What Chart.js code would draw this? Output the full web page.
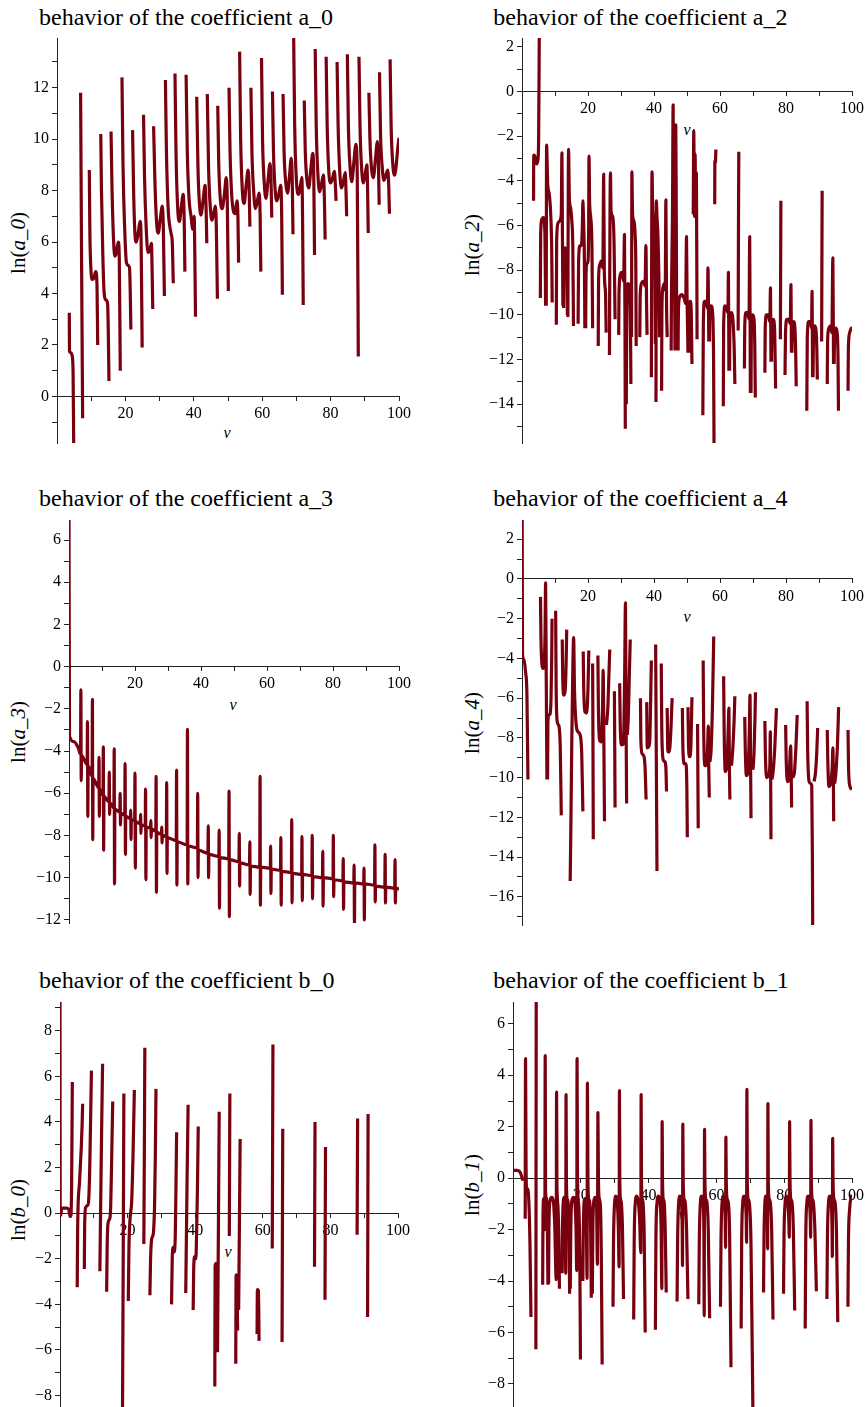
<!DOCTYPE html>
<html>
<head>
<meta charset="utf-8">
<script src="https://cdn.jsdelivr.net/npm/chart.js@4.4.1/dist/chart.umd.min.js"></script>
<style>
  body { margin: 0; background: #fff; }
  #page { position: relative; width: 868px; height: 1407px; overflow: hidden;
          font-family: 'Liberation Serif', 'Times New Roman', serif; color: #000; }
  .title { position: absolute; font-size: 24px; line-height: 28px; white-space: nowrap; }
  .ylab { position: absolute; font-size: 21px; white-space: nowrap;
          transform: translate(-50%, -50%) rotate(-90deg); }
  .vlab { position: absolute; font-size: 16px; font-style: italic; transform: translate(-50%, -50%); }
  canvas { position: absolute; }
</style>
</head>
<body>
<div id="page"></div>
<script>
// curves: [v, ln(coef)], null = gap in the curve
const a0Curve = [
  [3.6,3.25],[3.65,1.75],[4.0,1.7],[4.4,1.6],[4.7,1.0],[4.9,-2.2], null,
  [6.9,11.8],[7.2,5.0],[7.5,-0.85], null,
  [9.45,8.8],[9.6,6.5],[9.9,5.0],[10.3,4.55],[10.8,4.6],[11.3,4.85],[11.7,4.3],[11.9,2.0], null,
  [12.8,10.2],[13.0,8.0],[13.4,5.5],[13.8,4.0],[14.3,3.75],[14.8,3.6],[15.0,2.5],[15.2,0.6], null,
  [15.8,10.3],[16.1,8.0],[16.5,6.2],[16.9,5.45],[17.4,5.6],[17.9,6.0],[18.2,5.5],[18.5,1.0], null,
  [19.0,12.4],[19.3,9.0],[19.8,6.5],[20.3,5.2],[20.8,5.1],[21.2,5.0],[21.4,4.2],[21.6,2.6], null,
  [22.1,10.35],[22.4,8.0],[22.8,6.3],[23.2,6.0],[23.8,6.4],[24.3,6.8],[24.6,6.0],[24.9,1.9], null,
  [25.3,10.95],[25.6,8.5],[26.1,6.5],[26.6,5.6],[27.2,5.7],[27.6,5.95],[27.8,5.0],[28.0,3.4], null,
  [28.25,10.5],[28.6,8.5],[29.1,6.8],[29.6,6.35],[30.2,6.9],[30.8,7.4],[31.1,6.5],[31.4,3.9], null,
  [31.7,12.3],[32.0,9.5],[32.5,7.3],[33.0,6.6],[33.4,6.3],[33.7,6.0],[34.0,4.4], null,
  [34.5,12.55],[34.8,9.5],[35.3,7.3],[35.8,6.8],[36.3,7.3],[36.9,7.85],[37.2,6.8],[37.4,4.85], null,
  [37.75,12.5],[38.1,9.5],[38.6,7.7],[39.2,7.0],[39.7,6.5],[40.1,7.0],[40.3,5.5],[40.5,3.1], null,
  [40.85,11.65],[41.2,9.0],[41.6,7.6],[42.1,7.05],[42.7,7.6],[43.3,8.2],[43.6,7.3],[43.8,5.95], null,
  [43.95,11.75],[44.3,9.0],[44.8,7.4],[45.3,6.85],[45.8,7.1],[46.3,7.4],[46.6,6.5],[46.9,3.8], null,
  [47.0,11.3],[47.3,9.0],[47.8,7.6],[48.3,7.3],[48.9,7.8],[49.5,8.5],[49.8,7.5],[50.1,4.1], null,
  [50.3,12.0],[50.6,9.5],[51.1,7.8],[51.6,7.2],[52.1,7.1],[52.6,7.6],[52.9,7.0],[53.1,5.2], null,
  [53.4,13.4],[53.7,10.0],[54.2,8.0],[54.7,7.5],[55.3,8.2],[55.9,8.8],[56.2,8.0],[56.4,6.6], null,
  [56.7,12.0],[57.0,9.5],[57.5,8.0],[58.0,7.3],[58.6,7.6],[59.1,7.9],[59.4,7.0],[59.6,4.85], null,
  [59.8,13.15],[60.1,10.0],[60.6,8.3],[61.1,7.7],[61.7,8.4],[62.3,9.05],[62.6,8.3],[62.8,6.95], null,
  [63.0,11.85],[63.3,9.5],[63.8,8.0],[64.3,7.6],[64.9,7.9],[65.4,8.2],[65.7,7.0],[65.9,3.95], null,
  [66.1,11.75],[66.4,9.5],[66.9,8.3],[67.4,7.9],[68.0,8.6],[68.5,9.25],[68.8,8.3],[69.0,6.3], null,
  [69.2,14.0],[69.5,10.5],[70.0,8.4],[70.6,7.85],[71.2,8.2],[71.6,8.5],[71.8,7.0],[72.0,3.55], null,
  [72.3,11.5],[72.6,9.5],[73.1,8.4],[73.6,8.1],[74.2,8.8],[74.8,9.45],[75.1,8.3],[75.3,5.5], null,
  [75.5,13.5],[75.8,10.5],[76.3,8.6],[76.8,7.95],[77.4,8.3],[77.9,8.6],[78.2,7.6],[78.4,6.1], null,
  [78.7,13.2],[79.0,10.5],[79.5,8.7],[80.0,8.3],[80.6,8.5],[81.1,8.75],[81.4,8.2],[81.6,7.6], null,
  [81.9,13.0],[82.2,10.5],[82.7,8.7],[83.2,8.1],[83.8,8.4],[84.3,8.7],[84.5,8.0],[84.7,7.0], null,
  [84.9,13.3],[85.2,10.5],[85.7,8.9],[86.2,8.35],[86.8,9.1],[87.4,9.8],[87.8,8.5],[88.1,1.55], null,
  [88.3,13.2],[88.6,10.5],[89.1,8.8],[89.6,8.3],[90.2,8.7],[90.6,9.0],[90.8,8.2],[91.0,6.35], null,
  [91.2,11.8],[91.5,10.0],[92.0,8.8],[92.5,8.5],[93.1,9.2],[93.7,9.9],[94.0,9.0],[94.2,7.45], null,
  [94.3,12.6],[94.6,10.2],[95.1,8.9],[95.6,8.4],[96.2,8.6],[96.7,8.8],[97.0,8.2],[97.2,7.1], null,
  [97.4,13.1],[97.7,10.5],[98.2,9.0],[98.7,8.6],[99.2,9.0],[99.6,9.6],[100,10.05]
];

const a2Curve = [
  [3.5,-4.9],[3.55,-2.85],[3.9,-2.9],[4.4,-3.25],[4.8,-3.1],[5.05,-2.0],[5.25,3.0], null,
  [5.56,-9.25],[5.66,-6.4],[5.97,-5.75],[6.5,-5.65],[6.95,-6.4],[7.15,-9.6], null,
  [7.35,-9.6],[7.45,-2.4],[7.8,-4.2],[8.2,-4.55],[8.7,-5.5],[9.0,-7.1],[9.15,-9.45], null,
  [10.4,-10.45],[10.5,-6.7],[10.9,-5.9],[11.4,-5.8],[11.9,-5.5],[12.1,-2.75],[12.25,-6.4],[12.4,-9.6], null,
  [12.6,-9.7],[12.7,-7.5],[13.0,-7.0],[13.4,-7.1],[13.6,-8.0],[13.75,-10.0], null,
  [13.9,-10.1],[14.1,-2.6],[14.35,-4.8],[14.7,-5.2],[15.1,-5.8],[15.4,-7.0],[15.6,-10.5], null,
  [17.0,-10.4],[17.15,-7.6],[17.6,-6.9],[18.0,-6.9],[18.3,-6.0],[18.45,-4.9],[18.6,-5.5],[18.9,-7.5],[19.05,-10.6], null,
  [19.3,-10.6],[19.4,-8.2],[19.7,-7.7],[20.0,-7.6],[20.2,-6.0],[20.3,-2.9],[20.5,-5.0],[20.8,-5.6],[21.2,-7.0],[21.4,-10.6], null,
  [23.1,-11.4],[23.2,-8.5],[23.5,-7.8],[24.0,-7.6],[24.5,-7.9],[24.75,-3.7],[24.95,-8.1],[25.3,-9.0],[25.5,-10.8], null,
  [26.5,-11.8],[26.65,-6.0],[26.8,-3.65],[27.0,-5.4],[27.5,-5.6],[27.9,-6.8],[28.2,-10.2], null,
  [29.3,-10.9],[29.4,-9.0],[29.8,-8.2],[30.3,-8.1],[30.8,-8.5],[31.05,-6.4],[31.2,-10.0],[31.3,-15.1], null,
  [31.6,-14.0],[31.8,-9.5],[32.1,-8.6],[32.5,-8.7],[32.85,-10.0],[33.0,-13.1], null,
  [33.2,-11.0],[33.3,-3.6],[33.5,-5.5],[33.9,-5.8],[34.3,-6.5],[34.5,-8.0],[34.6,-11.4], null,
  [35.7,-11.0],[35.8,-9.2],[36.2,-8.6],[36.8,-8.5],[37.3,-8.7],[37.55,-6.9],[37.75,-9.5],[37.9,-10.9], null,
  [39.2,-12.8],[39.4,-3.6],[39.6,-5.3],[39.9,-5.7],[40.2,-7.0],[40.4,-11.3], null,
  [40.6,-13.9],[40.7,-4.9],[40.9,-5.6],[41.2,-6.5],[41.5,-8.5],[41.7,-11.0], null,
  [42.3,-13.4],[42.4,-9.8],[42.7,-8.8],[43.1,-8.6],[43.4,-8.9],[43.6,-4.85],[43.8,-9.5],[44.0,-11.0], null,
  [45.2,-11.6],[45.3,-9.0],[45.6,-5.6],[45.8,-0.6],[45.95,-5.6],[46.2,-7.5],[46.35,-11.6], null,
  [46.5,-11.6],[46.6,-1.5],[46.75,-5.6],[46.9,-11.6], null,
  [47.3,-11.6],[47.4,-9.8],[47.8,-9.2],[48.5,-9.1],[49.2,-9.3],[49.6,-9.5],[49.85,-6.5],[50.0,-9.0],[50.3,-11.7], null,
  [50.5,-11.7],[50.6,-9.6],[51.0,-9.4],[51.3,-10.0],[51.5,-12.2], null,
  [51.9,-5.5],[52.05,-1.75],[52.25,-5.6],[52.45,-2.8],[52.65,-5.6],[52.85,-3.65],[53.05,-11.1], null,
  [54.8,-14.5],[54.95,-10.5],[55.3,-9.4],[55.8,-9.4],[56.2,-9.7],[56.35,-7.9],[56.5,-9.5],[56.6,-11.2], null,
  [56.8,-11.2],[56.9,-9.8],[57.3,-9.6],[57.8,-10.0],[58.05,-12.0],[58.2,-16.0], null,
  [58.4,-5.05],[58.45,-3.1],[58.6,-3.2],[58.75,-2.6], null,
  [61.0,-14.1],[61.1,-10.5],[61.5,-9.6],[62.0,-9.7],[62.4,-9.9],[62.55,-8.1],[62.7,-12.5], null,
  [62.9,-12.5],[63.0,-10.2],[63.5,-9.9],[63.9,-10.2],[64.3,-11.5],[64.5,-13.1], null,
  [65.5,-10.7],[65.6,-6.0],[65.7,-2.7], null,
  [67.4,-12.4],[67.5,-10.5],[67.9,-9.9],[68.4,-9.9],[68.8,-10.2],[69.0,-6.5],[69.2,-13.5], null,
  [69.4,-13.5],[69.5,-10.6],[69.9,-10.0],[70.3,-10.2],[70.55,-11.5],[70.7,-13.7], null,
  [73.6,-12.6],[73.7,-10.6],[74.1,-10.0],[74.6,-10.0],[75.1,-10.3],[75.3,-8.8],[75.45,-12.1], null,
  [75.6,-12.1],[75.7,-10.7],[76.1,-10.2],[76.5,-10.5],[76.7,-11.8],[76.85,-13.3], null,
  [78.3,-11.1],[78.45,-4.9], null,
  [79.7,-12.7],[79.85,-10.8],[80.3,-10.2],[80.8,-10.2],[81.3,-10.4],[81.5,-8.65],[81.65,-11.7], null,
  [81.8,-11.7],[81.9,-10.8],[82.3,-10.3],[82.7,-10.6],[82.95,-11.8],[83.1,-13.2], null,
  [86.3,-14.3],[86.45,-11.0],[86.9,-10.3],[87.4,-10.3],[87.75,-10.6],[87.9,-8.95],[88.05,-12.8], null,
  [88.2,-12.8],[88.3,-11.2],[88.7,-10.5],[89.1,-10.7],[89.35,-11.6],[89.5,-12.9], null,
  [90.8,-11.2],[90.95,-4.45], null,
  [92.5,-13.1],[92.6,-11.2],[93.0,-10.6],[93.5,-10.5],[93.9,-10.8],[94.2,-7.45],[94.4,-12.2], null,
  [94.6,-12.2],[94.7,-11.0],[95.1,-10.6],[95.5,-10.8],[95.75,-11.8],[95.9,-14.3], null,
  [98.8,-13.4],[98.9,-11.5],[99.3,-10.8],[99.8,-10.6],[100,-10.6]
];

const a3Curve = [
  [0.0,7.2],[0.15,-3.3],[1.5,-3.55],[2.8,-3.85],
  [3.5,-4.15],[3.6,-1.1],[3.7,-5.4],[3.8,-4.2],
  [5.5,-4.65],[5.6,-2.6],[5.7,-7.1],[5.8,-4.7],
  [7.0,-5.2],[7.1,-1.55],[7.2,-8.2],[7.3,-5.3],
  [9.0,-5.75],[9.1,-4.3],[9.2,-7.1],[9.3,-5.8],
  [10.3,-6.1],[10.4,-3.8],[10.5,-8.7],[10.6,-6.15],
  [12.1,-6.4],[12.2,-5.0],[12.3,-7.0],[12.4,-6.45],
  [13.6,-6.7],[13.7,-3.9],[13.8,-10.3],[13.9,-6.75],
  [15.4,-6.9],[15.5,-6.0],[15.6,-7.5],[15.7,-6.95],
  [16.9,-7.05],[17.0,-4.6],[17.1,-8.9],[17.2,-7.1],
  [18.6,-7.2],[18.7,-6.8],[18.8,-8.2],[18.9,-7.25],
  [19.9,-7.3],[20.0,-5.05],[20.1,-9.55],[20.2,-7.35],
  [21.6,-7.45],[21.7,-7.0],[21.8,-7.9],[21.9,-7.5],
  [23.1,-7.55],[23.2,-5.8],[23.3,-10.1],[23.4,-7.6],
  [24.7,-7.65],[24.8,-7.3],[24.9,-8.1],[25.0,-7.7],
  [26.3,-7.8],[26.4,-5.2],[26.5,-10.7],[26.6,-7.85],
  [28.0,-7.95],[28.1,-7.6],[28.2,-8.35],[28.3,-8.0],
  [29.5,-8.05],[29.6,-5.5],[29.7,-9.8],[29.8,-8.1],
  [32.5,-8.25],[32.6,-4.9],[32.7,-10.35],[32.8,-8.3],
  [35.8,-8.45],[35.9,-2.97],[36.0,-10.3],[36.1,-8.5],
  [38.9,-8.6],[39.0,-6.0],[39.1,-10.0],[39.2,-8.7],
  [42.1,-8.85],[42.2,-7.55],[42.3,-10.0],[42.4,-8.9],
  [45.4,-9.0],[45.5,-7.75],[45.6,-11.45],[45.7,-9.05],
  [48.4,-9.1],[48.5,-5.9],[48.6,-11.85],[48.7,-9.15],
  [51.5,-9.25],[51.6,-7.9],[51.7,-10.4],[51.8,-9.3],
  [54.7,-9.4],[54.8,-8.3],[54.9,-10.8],[55.0,-9.45],
  [57.8,-9.5],[57.9,-5.2],[58.0,-11.3],[58.1,-9.5],
  [61.0,-9.55],[61.1,-8.5],[61.2,-10.75],[61.3,-9.6],
  [64.1,-9.65],[64.2,-8.1],[64.3,-11.3],[64.4,-9.7],
  [67.4,-9.75],[67.5,-7.25],[67.6,-11.2],[67.7,-9.8],
  [70.5,-9.85],[70.6,-8.05],[70.7,-11.1],[70.8,-9.85],
  [73.6,-9.9],[73.7,-8.0],[73.8,-11.0],[73.9,-9.95],
  [76.8,-10.0],[76.9,-8.75],[77.0,-11.35],[77.1,-10.0],
  [80.0,-10.05],[80.1,-8.0],[80.2,-10.9],[80.3,-10.1],
  [83.0,-10.15],[83.1,-9.1],[83.2,-11.5],[83.3,-10.2],
  [86.3,-10.25],[86.4,-9.4],[86.5,-12.15],[86.6,-10.25],
  [89.3,-10.3],[89.4,-9.55],[89.5,-12.0],[89.6,-10.3],
  [92.6,-10.35],[92.7,-8.45],[92.8,-11.15],[92.9,-10.4],
  [95.7,-10.45],[95.8,-8.9],[95.9,-11.2],[96.0,-10.45],
  [98.7,-10.5],[98.8,-9.15],[98.9,-11.2],[99.0,-10.5],
  [100,-10.55]
];

const a4Curve = [
  [0.05,3.2],[0.15,-3.8],[0.5,-4.0],[1.1,-4.7],[1.5,-5.85],[1.8,-10.1], null,
  [5.6,-0.9],[5.75,-3.0],[6.0,-4.2],[6.4,-4.5],[6.8,-4.0],[7.0,-2.5],[7.15,-0.2],[7.35,-5.0],[7.55,-10.1], null,
  [7.75,-10.1],[7.85,-7.2],[8.1,-6.85],[8.5,-6.8],[8.8,-6.0],[9.0,-4.0],[9.1,-2.0], null,
  [10.2,-1.6],[10.35,-5.5],[10.7,-7.2],[11.2,-7.4],[11.6,-8.5],[11.9,-11.9], null,
  [12.2,-3.05],[12.35,-5.0],[12.7,-5.85],[13.1,-5.6],[13.4,-4.0],[13.55,-2.55], null,
  [14.6,-15.2],[14.75,-13.3],[15.1,-8.0],[15.45,-4.0],[15.65,-2.95],[15.9,-5.5],[16.4,-7.3],[17.0,-7.7],[17.7,-7.9],[18.1,-8.8],[18.45,-11.7], null,
  [18.55,-3.65],[18.7,-5.5],[19.1,-6.7],[19.6,-6.75],[20.0,-5.5],[20.25,-3.6], null,
  [21.4,-4.25],[21.5,-8.0],[21.6,-13.1], null,
  [23.0,-3.85],[23.15,-6.5],[23.5,-8.1],[24.0,-8.2],[24.4,-6.5],[24.6,-4.6],[24.8,-8.0],[25.0,-12.2], null,
  [25.6,-7.35],[26.0,-6.5],[26.4,-4.5],[26.6,-3.55], null,
  [28.0,-5.65],[28.1,-8.5],[28.2,-11.5], null,
  [29.6,-5.25],[29.75,-7.2],[30.2,-8.35],[30.7,-8.3],[31.1,-5.0],[31.35,-1.2],[31.5,-6.0],[31.7,-11.3], null,
  [31.9,-7.85],[32.2,-7.0],[32.5,-5.0],[32.8,-3.05], null,
  [35.9,-6.0],[36.0,-8.0],[36.4,-8.8],[36.9,-8.9],[37.3,-9.5],[37.6,-11.1], null,
  [37.8,-6.2],[37.95,-8.5],[38.3,-8.45],[38.7,-8.2],[39.0,-6.0],[39.2,-4.1], null,
  [40.5,-3.3],[40.7,-9.0],[40.9,-14.7], null,
  [42.2,-4.25],[42.35,-7.5],[42.8,-9.1],[43.3,-9.2],[43.6,-9.5],[43.8,-10.7], null,
  [44.0,-6.5],[44.2,-8.7],[44.6,-8.7],[45.0,-8.0],[45.5,-6.0], null,
  [48.6,-6.5],[48.75,-8.5],[49.2,-9.3],[49.7,-9.3],[49.95,-10.5],[50.1,-13.0], null,
  [50.3,-6.45],[50.45,-8.3],[50.8,-8.95],[51.2,-8.3],[51.5,-5.95], null,
  [53.2,-7.3],[53.3,-10.0],[53.4,-12.55], null,
  [54.9,-4.1],[55.05,-7.5],[55.5,-9.4],[56.0,-9.3],[56.3,-8.2],[56.45,-7.4],[56.6,-9.5],[56.75,-11.0], null,
  [56.95,-9.2],[57.3,-8.6],[57.7,-6.5],[58.1,-2.9], null,
  [61.1,-4.9],[61.25,-7.5],[61.6,-9.7],[62.1,-9.4],[62.5,-7.5],[62.7,-6.5],[62.85,-9.5],[63.0,-11.1], null,
  [63.5,-9.4],[63.9,-8.5],[64.3,-7.0],[64.5,-5.9], null,
  [67.5,-6.95],[67.65,-8.5],[68.0,-9.9],[68.5,-9.7],[68.9,-7.5],[69.1,-5.85],[69.25,-9.0],[69.4,-12.05], null,
  [70.0,-9.6],[70.3,-8.8],[70.6,-7.0],[70.75,-5.7], null,
  [73.6,-7.15],[73.75,-8.8],[74.2,-10.0],[74.7,-9.9],[75.1,-9.4],[75.25,-7.7],[75.35,-10.0],[75.45,-13.1], null,
  [75.7,-10.1],[76.1,-9.7],[76.6,-8.5],[77.1,-6.5], null,
  [79.9,-7.35],[80.05,-9.0],[80.5,-10.2],[81.0,-9.8],[81.4,-8.4],[81.55,-9.5],[81.7,-11.5], null,
  [81.9,-10.0],[82.5,-9.8],[83.0,-8.5],[83.4,-6.85], null,
  [86.4,-6.15],[86.55,-8.5],[87.0,-10.2],[87.5,-10.3],[87.8,-10.4],[88.0,-14.0],[88.1,-18.0], null,
  [88.5,-10.2],[88.9,-9.8],[89.3,-8.8],[89.6,-7.5], null,
  [92.5,-7.6],[92.65,-9.0],[93.0,-10.45],[93.5,-10.3],[94.0,-9.5],[94.2,-8.5],[94.35,-10.0],[94.45,-12.2], null,
  [94.75,-10.3],[95.1,-9.8],[95.6,-8.3],[95.95,-6.45], null,
  [98.8,-7.6],[98.95,-9.5],[99.4,-10.45],[100,-10.6]
];

const b0Curve = [
  [0.0,9.4],[0.05,0.0],[0.2,-0.1],[0.5,0.2],[1.0,0.22],[2.0,0.22],[2.6,0.15],[3.0,-0.15],[3.25,-0.1],[3.45,1.5],[3.65,5.75], null,
  [5.1,-3.25],[5.2,-1.0],[5.35,0.3],[5.8,1.4],[6.3,2.9],[6.55,3.9],[6.7,4.8], null,
  [7.2,-2.45],[7.3,-0.5],[7.6,0.25],[8.2,0.35],[8.5,0.6],[8.8,2.0],[9.1,4.5],[9.3,6.25], null,
  [11.8,-2.55],[12.0,0.0],[12.3,3.5],[12.6,6.55], null,
  [13.8,-3.45],[13.95,-1.5],[14.2,-0.45],[14.7,-0.25],[15.0,0.3],[15.3,2.5],[15.6,4.9], null,
  [18.5,-8.6],[18.7,-2.0],[18.9,5.25], null,
  [20.2,-3.85],[20.4,-1.5],[20.7,-0.3],[21.2,0.5],[21.6,2.5],[22.0,5.4], null,
  [24.8,-1.35],[24.95,2.5],[25.1,7.25], null,
  [26.6,-3.6],[26.8,-2.0],[27.1,-1.15],[27.6,-0.9],[28.0,0.5],[28.2,2.5],[28.4,5.45], null,
  [33.0,-4.0],[33.2,-2.0],[33.5,-1.5],[33.8,-1.7],[34.1,-1.0],[34.3,1.0],[34.5,3.55], null,
  [37.2,-3.5],[37.4,-1.0],[37.6,1.5],[37.9,4.75], null,
  [39.4,-4.25],[39.6,-2.2],[39.9,-1.9],[40.2,-2.0],[40.4,-1.0],[40.65,1.0],[40.9,3.8], null,
  [45.8,-7.6],[45.9,-2.3],[46.2,-2.2],[46.45,-6.1], null,
  [46.6,-6.1],[46.85,-1.0],[47.1,4.45], null,
  [50.1,-1.0],[50.25,5.25], null,
  [52.0,-6.6],[52.1,-2.7],[52.35,-2.8],[52.55,-5.15], null,
  [52.85,-4.25],[53.05,-1.0],[53.3,3.25], null,
  [58.3,-5.3],[58.4,-3.35],[58.7,-3.4],[58.9,-5.6], null,
  [62.8,-1.55],[63.0,7.4], null,
  [65.7,-5.65],[65.9,3.7], null,
  [75.3,-2.35],[75.45,4.0], null,
  [78.4,-3.8],[78.55,2.9], null,
  [87.9,-0.95],[88.05,4.15], null,
  [91.0,-4.55],[91.15,4.35]
];

const b1Curve = [
  [0,0.3],[1.0,0.3],[1.7,0.28],[2.2,0.2],[2.6,0.05],[2.9,-0.1], null,
  [3.6,-1.58],[3.7,4.65],[3.85,0.5],[4.05,-0.5],[4.35,-0.42],[4.7,-1.0],[5.0,-2.5],[5.3,-5.4], null,
  [6.75,-6.65],[6.8,0.0],[6.85,6.9], null,
  [8.75,-4.15],[8.85,-1.5],[9.05,-0.8],[9.25,-1.0],[9.4,-2.0],[9.5,4.77],[9.6,-0.5],[9.8,-0.75],[10.0,-1.0],[10.15,-2.0],[10.3,-4.15], null,
  [10.5,-4.1],[10.6,-2.0],[10.9,-0.9],[11.4,-0.75],[11.9,-0.9],[12.3,-1.8],[12.75,-3.95],[12.85,3.35],[12.95,0.0],[13.1,-0.8],[13.3,-1.2],[13.55,-2.5],[13.7,-4.3], null,
  [14.5,-3.7],[14.6,-2.0],[14.85,-0.9],[15.1,-0.75],[15.35,-1.0],[15.55,-3.7],[15.65,3.25],[15.75,0.0],[15.95,-0.8],[16.2,-0.9],[16.5,-2.0],[16.7,-4.5], null,
  [16.9,-4.3],[17.05,-2.0],[17.4,-0.85],[17.9,-0.75],[18.3,-1.0],[18.6,-2.0],[18.8,-3.6],[18.9,4.65],[19.0,0.5],[19.2,-0.8],[19.45,-1.2],[19.7,-3.0],[19.9,-7.05], null,
  [20.6,-4.0],[20.75,-2.0],[21.0,-0.9],[21.3,-0.8],[21.6,-1.2],[21.85,-3.9],[21.95,3.7],[22.1,0.0],[22.3,-0.8],[22.6,-0.9],[22.9,-2.0],[23.1,-4.65], null,
  [23.4,-4.5],[23.55,-2.0],[23.9,-0.85],[24.3,-0.75],[24.65,-1.0],[24.9,-3.35],[25.05,2.55],[25.2,0.0],[25.45,-0.8],[25.75,-1.0],[26.05,-3.0],[26.3,-7.25], null,
  [29.5,-5.0],[29.65,-2.5],[29.95,-1.0],[30.35,-0.7],[30.75,-0.9],[31.05,-1.8],[31.3,-3.45],[31.4,3.4],[31.5,0.0],[31.7,-0.8],[31.95,-0.95],[32.3,-2.0],[32.6,-4.7], null,
  [35.6,-5.5],[35.75,-2.5],[36.05,-1.0],[36.5,-0.7],[36.95,-0.9],[37.35,-1.6],[37.7,-2.9],[37.8,3.25],[37.9,0.0],[38.1,-0.8],[38.35,-0.95],[38.7,-2.2],[39.0,-6.0], null,
  [42.0,-5.9],[42.15,-2.5],[42.45,-1.0],[42.9,-0.7],[43.35,-0.9],[43.7,-2.0],[43.9,-4.3],[44.0,2.2],[44.1,0.0],[44.3,-0.8],[44.55,-0.9],[44.9,-2.0],[45.2,-4.45], null,
  [48.4,-4.8],[48.55,-2.5],[48.85,-1.0],[49.25,-0.7],[49.65,-0.9],[49.9,-1.8],[50.0,-3.4],[50.1,2.1],[50.2,0.0],[50.45,-0.8],[50.75,-0.9],[51.2,-2.0],[51.6,-4.7], null,
  [54.8,-4.9],[54.95,-2.5],[55.25,-1.0],[55.65,-0.7],[56.05,-0.9],[56.3,-2.0],[56.4,-5.35],[56.5,1.9],[56.6,0.0],[56.85,-0.8],[57.15,-0.9],[57.6,-2.0],[58.0,-5.45], null,
  [61.2,-5.0],[61.35,-2.5],[61.65,-1.0],[62.05,-0.7],[62.4,-0.9],[62.6,-1.6],[62.7,-2.7],[62.8,1.6],[62.9,0.0],[63.15,-0.8],[63.45,-0.9],[63.9,-2.2],[64.3,-7.35], null,
  [67.3,-5.85],[67.45,-2.5],[67.75,-1.0],[68.15,-0.7],[68.55,-0.9],[68.8,-1.6],[68.9,-2.5],[69.0,3.45],[69.1,0.0],[69.35,-0.8],[69.7,-0.95],[70.2,-2.5],[70.8,-9.5], null,
  [73.9,-4.45],[74.05,-2.2],[74.3,-1.0],[74.6,-0.7],[74.9,-0.9],[75.05,-1.8],[75.1,-2.75],[75.2,2.9],[75.3,0.0],[75.55,-0.8],[75.85,-0.9],[76.3,-2.0],[76.7,-5.5], null,
  [79.8,-4.5],[79.95,-2.2],[80.25,-1.0],[80.65,-0.7],[81.05,-0.9],[81.35,-1.6],[81.5,-2.3],[81.6,2.2],[81.7,0.0],[81.95,-0.8],[82.25,-0.9],[82.7,-2.0],[83.1,-5.15], null,
  [86.2,-5.85],[86.35,-2.5],[86.65,-1.0],[87.05,-0.7],[87.45,-0.9],[87.7,-1.6],[87.8,-2.3],[87.9,2.25],[88.0,0.0],[88.25,-0.8],[88.55,-0.9],[89.05,-2.0],[89.5,-4.4], null,
  [92.6,-4.7],[92.75,-2.3],[93.05,-1.0],[93.45,-0.7],[93.85,-0.9],[94.1,-1.8],[94.2,-3.05],[94.3,1.55],[94.4,0.0],[94.65,-0.8],[94.95,-0.9],[95.4,-2.0],[95.8,-5.6], null,
  [98.8,-5.0],[98.95,-2.5],[99.3,-1.2],[99.7,-0.75],[100,-0.65]
];

const xTickLabels = [20, 40, 60, 80, 100];

const LINE = 'rgb(120, 0, 15)';
const AXIS = '#222';

Chart.defaults.font.family = "'Liberation Serif', 'Times New Roman', serif";
Chart.defaults.font.size = 16;
Chart.defaults.color = '#000';

// page layout of each plot: plot box [left, top, right, bottom] in px
const panels = [
  { name: 'a_0', curve: a0Curve, yMin: -1.81, yMax: 13.93, box: [57, 38, 399, 443],
    titleAt: [39, 3], ylabAt: [17.5, 242.5], vAt: [227, 433] },
  { name: 'a_2', curve: a2Curve, yMin: -15.74, yMax: 2.39, box: [522.3, 38.3, 852.3, 443.3],
    titleAt: [493.3, 3], ylabAt: [471.5, 245], vAt: [687, 130] },
  { name: 'a_3', curve: a3Curve, yMin: -12.15, yMax: 6.95, box: [69, 520, 399, 923],
    titleAt: [39, 484], ylabAt: [17.5, 731.7], vAt: [233, 705] },
  { name: 'a_4', curve: a4Curve, yMin: -17.42, yMax: 2.97, box: [522.3, 520, 852.3, 925],
    titleAt: [493.3, 484], ylabAt: [471.5, 723], vAt: [687, 616.7] },
  { name: 'b_0', curve: b0Curve, yMin: -8.5, yMax: 9.26, box: [60, 1001.7, 398.3, 1406.7],
    titleAt: [39, 966], ylabAt: [17.5, 1210], vAt: [228, 1251.7] },
  { name: 'b_1', curve: b1Curve, yMin: -8.9, yMax: 6.85, box: [513.3, 1001.7, 852.3, 1406.7],
    titleAt: [493.3, 966], ylabAt: [471.5, 1185], vAt: [682, 1215] }
];

function toPoints(list) {
  let lastX = 0;
  return list.map(p => {
    if (p === null) return { x: lastX, y: null };
    lastX = p[0];
    return { x: p[0], y: p[1] };
  });
}

function tickText(v) {
  const r = Math.round(v);
  if (r % 2 !== 0) return '';
  return r < 0 ? '\u2212' + Math.abs(r) : String(r);
}

const page = document.getElementById('page');

function addText(cls, html, x, y) {
  const d = document.createElement('div');
  d.className = cls;
  d.innerHTML = html;
  d.style.left = x + 'px';
  d.style.top = y + 'px';
  page.appendChild(d);
}

panels.forEach(p => {
  const [L, T, R, B] = p.box;
  const padL = 50, padR = 22, padV = 14;

  addText('title', 'behavior of the coefficient ' + p.name, p.titleAt[0], p.titleAt[1]);
  addText('ylab', 'ln(<i>' + p.name + '</i>)', p.ylabAt[0], p.ylabAt[1]);
  addText('vlab', 'v', p.vAt[0], p.vAt[1]);

  const cv = document.createElement('canvas');
  cv.width = Math.round(R - L) + padL + padR;
  cv.height = Math.round(B - T) + 2 * padV;
  cv.style.left = (L - padL) + 'px';
  cv.style.top = (T - padV) + 'px';
  page.appendChild(cv);

  new Chart(cv.getContext('2d'), {
    type: 'line',
    data: {
      datasets: [{
        data: toPoints(p.curve),
        borderColor: LINE,
        borderWidth: 3.2,
        pointRadius: 0,
        cubicInterpolationMode: 'monotone',
        spanGaps: false,
        borderJoinStyle: 'round'
      }]
    },
    options: {
      responsive: false,
      animation: false,
      events: [],
      layout: { padding: { left: 0, right: padR, top: padV, bottom: padV } },
      plugins: { legend: { display: false }, tooltip: { enabled: false } },
      scales: {
        x: {
          type: 'linear', min: 0, max: 100,
          position: { y: 0 },
          afterFit: s => { s.height = 0; },
          afterBuildTicks: s => { s.ticks = s.ticks.filter(t => Math.abs(t.value % 10) < 1e-6); },
          ticks: {
            stepSize: 10, includeBounds: false, autoSkip: false, maxRotation: 0, padding: 4,
            callback: v => xTickLabels.includes(Math.round(v)) ? String(Math.round(v)) : ''
          },
          grid: { drawOnChartArea: false, tickLength: 4, color: AXIS },
          border: { color: AXIS, width: 1 }
        },
        y: {
          type: 'linear', min: p.yMin, max: p.yMax, position: 'left',
          afterFit: s => { s.width = padL; },
          afterBuildTicks: s => { s.ticks = s.ticks.filter(t => Math.abs(t.value - Math.round(t.value)) < 1e-6); },
          ticks: { stepSize: 1, includeBounds: false, autoSkip: false, padding: 3, callback: tickText },
          grid: { drawOnChartArea: false, tickLength: 5, color: AXIS },
          border: { color: AXIS, width: 1 }
        }
      }
    }
  });
});
</script>
</body>
</html>
